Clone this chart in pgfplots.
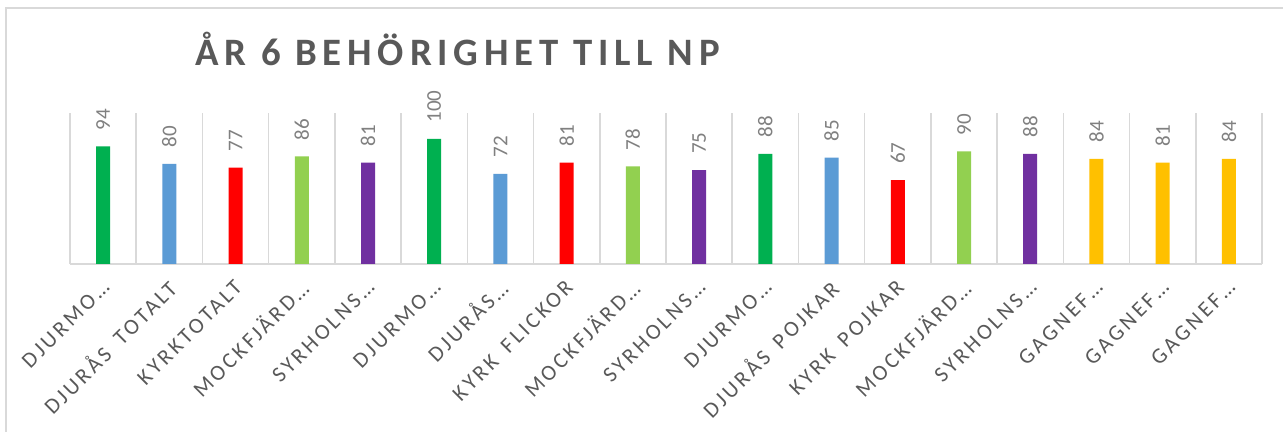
\documentclass[border=0pt]{standalone}
\usepackage{fontspec}
\setmainfont{Carlito}
\newfontfamily\tickfont[LetterSpace=14]{Carlito}
\newfontfamily\titlefont[LetterSpace=15]{Carlito}
\usepackage{pgfplots}
\pgfplotsset{compat=1.18}
\definecolor{cGreen}{HTML}{00B050}
\definecolor{cBlue}{HTML}{5B9BD5}
\definecolor{cRed}{HTML}{FF0000}
\definecolor{cLGreen}{HTML}{92D050}
\definecolor{cPurple}{HTML}{7030A0}
\definecolor{cGold}{HTML}{FFC000}
\definecolor{cGrid}{HTML}{D9D9D9}
\definecolor{cText}{HTML}{595959}
\definecolor{cLab}{HTML}{808080}
\newcommand{\ws}{\hspace{2.5pt}}
\begin{document}
\begin{tikzpicture}
\useasboundingbox (-35pt,-84pt) rectangle (606.5pt,132pt);
\fill[white] (-35pt,-84pt) rectangle (606.5pt,132pt);
\draw[cGrid, line width=0.8pt] (-32pt,-100pt) -- (-32pt,128pt) -- (620pt,128pt);
\node[anchor=base, text=cText, font=\titlefont\fontsize{19.4}{20}\selectfont\bfseries] at (193.75pt,99pt) {ÅR 6 BEHÖRIGHET TILL NP};
\begin{axis}[
  at={(0pt,0pt)}, anchor=south west,
  scale only axis, width=596pt, height=75.5pt,
  xmin=-0.5, xmax=17.5, ymin=0, ymax=120.8,
  axis x line*=bottom, axis y line=none,
  x axis line style={cGrid, line width=0.8pt},
  xtick={0,...,17},
  xticklabels={DJURMO…,DJURÅS \ws TOTALT,KYRKTOTALT,MOCKFJÄRD…,SYRHOLNS…,DJURMO…,DJURÅS…,KYRK \ws FLICKOR,MOCKFJÄRD…,SYRHOLNS…,DJURMO…,DJURÅS \ws POJKAR,KYRK \ws POJKAR,MOCKFJÄRD…,SYRHOLNS…,GAGNEF…,GAGNEF…,GAGNEF…},
  minor xtick={-0.5,0.5,...,17.5},
  xminorgrids, minor grid style={cGrid, line width=0.8pt},
  major tick length=0pt, minor tick length=0pt,
  xticklabel style={rotate=45, anchor=east, text=cText, inner sep=0pt, xshift=-6pt, yshift=-8pt,
    font=\tickfont\fontsize{11}{11}\selectfont},
  ybar, bar width=7pt,
  nodes near coords={\pgfmathprintnumber[assume math mode=true]{\pgfplotspointmeta}},
  every node near coord/.append style={rotate=90, anchor=west, inner ysep=0pt, inner xsep=8pt, text=cLab,
    font=\fontsize{10.5}{10.5}\selectfont},
  clip=false,
]
\addplot[fill=cGreen, draw=none, bar shift=0pt] coordinates {(0,94) (5,100) (10,88)};
\addplot[fill=cBlue, draw=none, bar shift=0pt] coordinates {(1,80) (6,72) (11,85)};
\addplot[fill=cRed, draw=none, bar shift=0pt] coordinates {(2,77) (7,81) (12,67)};
\addplot[fill=cLGreen, draw=none, bar shift=0pt] coordinates {(3,86) (8,78) (13,90)};
\addplot[fill=cPurple, draw=none, bar shift=0pt] coordinates {(4,81) (9,75) (14,88)};
\addplot[fill=cGold, draw=none, bar shift=0pt] coordinates {(15,84) (16,81) (17,84)};
\end{axis}
\end{tikzpicture}
\end{document}
